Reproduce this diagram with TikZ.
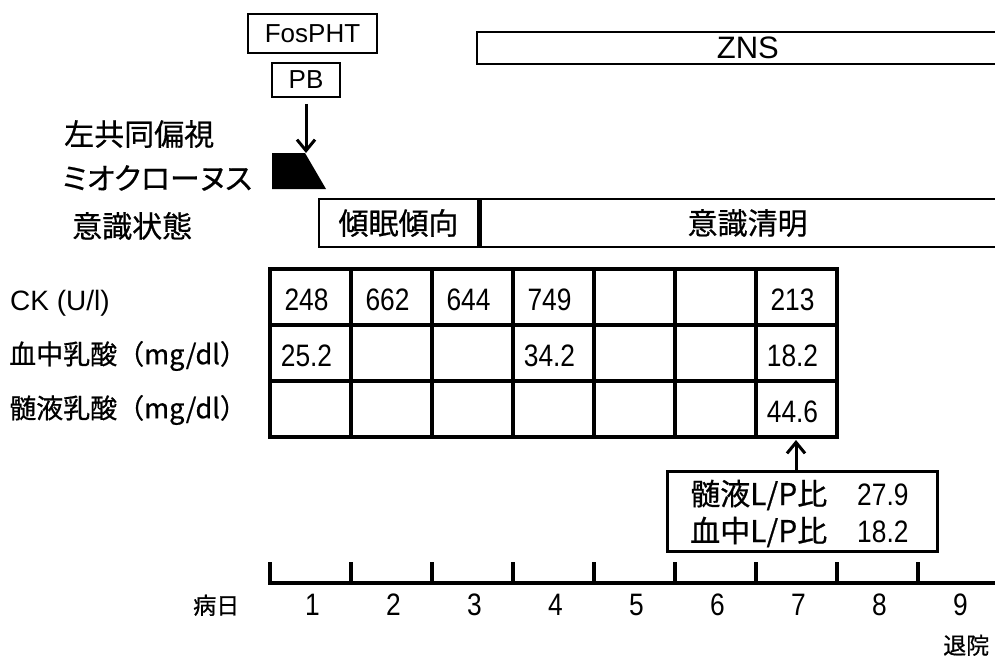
\documentclass[tikz,border=0pt]{standalone}
\usepackage{fontspec}
\setmainfont{Liberation Sans}
\newfontfamily\jp[FakeBold=0.6]{Noto Sans CJK JP}
\newfontfamily\jpp[RawFeature=+palt,FakeBold=0.6]{Noto Sans CJK JP}
\newfontfamily\cond[FakeStretch=0.85]{Liberation Sans}
\usetikzlibrary{arrows.meta}
\tikzset{
  thinbox/.style={draw, line width=1.8pt, inner sep=0pt, font=\fontsize{26}{28}\selectfont},
  thickbox/.style={draw, line width=2.6pt, inner sep=0pt, font=\jp\fontsize{30}{32}\selectfont},
  jlabel/.style={inner sep=0pt, anchor=west, font=\jp\fontsize{30}{32}\selectfont},
  rowlabel/.style={inner sep=0pt, anchor=west, font=\jp\fontsize{27}{29}\selectfont},
  val/.style={inner sep=0pt, font=\cond\fontsize{31}{33}\selectfont},
  jsmall/.style={inner sep=0pt, anchor=base west, font=\jp\fontsize{23}{25}\selectfont},
  lptext/.style={inner sep=0pt, anchor=base west, font=\jp\fontsize{30}{32}\selectfont},
  tbl/.style={line width=3.6pt, line cap=rect},
  arr/.style={line width=3pt, -{Straight Barb[length=11pt,width=18pt]}},
}
\begin{document}
\begin{tikzpicture}[x=1pt,y=-1pt]
\useasboundingbox (0,0) rectangle (995,658);
\clip (0,0) rectangle (995,658);
% drugs
\node[thinbox, minimum width=129pt, minimum height=39pt] (fos) at (312.5,33.5) {FosPHT};
\node[thinbox, minimum width=68pt, minimum height=34pt] (pb) at (306,80) {PB};
\node[thinbox, minimum width=542pt, minimum height=32.5pt, anchor=west, font=\fontsize{31}{33}\selectfont] (zns) at (476,48) {ZNS};
% seizure
\fill (272,153) -- (305,153) -- (326,189) -- (272,189) -- cycle;
\coordinate (mc) at (306,153);
\draw[arr, shorten <=6pt] (pb.south) -- (mc);
% left labels
\node[jlabel] (gaze) at (64,134) {左共同偏視};
\node[jlabel, font=\jpp\fontsize{30}{32}\selectfont] (myo) at (62,178) {ミオクローヌス};
\node[jlabel] (cons) at (72,226) {意識状態};
% consciousness row
\node[thickbox, minimum width=159pt, minimum height=48pt] (somn) at (398.5,223) {傾眠傾向};
\node[thickbox, minimum width=534pt, minimum height=48pt, anchor=west] (clear) at (somn.east) {意識清明};
% row labels
\node[inner sep=0pt, anchor=base west, font=\fontsize{28}{30}\selectfont] (ck) at (10,310) {CK (U/l)};
\node[rowlabel] (bl) at (9,356) {血中乳酸（mg/dl）};
\node[rowlabel] (csf) at (9,410) {髄液乳酸（mg/dl）};
% table
\foreach \i in {0,...,7} \draw[tbl] (270+81*\i,269) -- (270+81*\i,437);
\foreach \j in {0,...,3} \draw[tbl] (270,269+56*\j) -- (837,269+56*\j);
\foreach \c/\v in {1/248,2/662,3/644,4/749,7/213} \node[val] (ck\c) at (225.5+81*\c,300) {\v};
\foreach \c/\v in {1/25.2,4/34.2,7/18.2} \node[val] (bl\c) at (225.5+81*\c,356) {\v};
\foreach \c/\v in {7/44.6} \node[val] (csf\c) at (225.5+81*\c,412) {\v};
% L/P box
\node[thickbox, line width=3pt, minimum width=270pt, minimum height=80pt] (lp) at (802,511) {};
\node[lptext] (lp1) at (690,505) {髄液L/P比};
\node[val, anchor=base west] (lp1v) at (857,505) {27.9};
\node[lptext] (lp2) at (690,542) {血中L/P比};
\node[val, anchor=base west] (lp2v) at (857,542) {18.2};
\coordinate (c7) at (796,440);
\draw[arr] (lp.north -| c7) -- (c7);
% timeline
\draw[tbl] (270,564) -- (270,583) -- (1000,583);
\foreach \x in {351,432,...,918} \draw[tbl] (\x,564) -- (\x,583);
\foreach \i in {1,...,9} \node[val, anchor=base] (d\i) at (231.5+81*\i,615) {\i};
\node[jsmall] (byo) at (193,614) {病日};
\node[jsmall] (dis) at (943,654) {退院};
\end{tikzpicture}
\end{document}
